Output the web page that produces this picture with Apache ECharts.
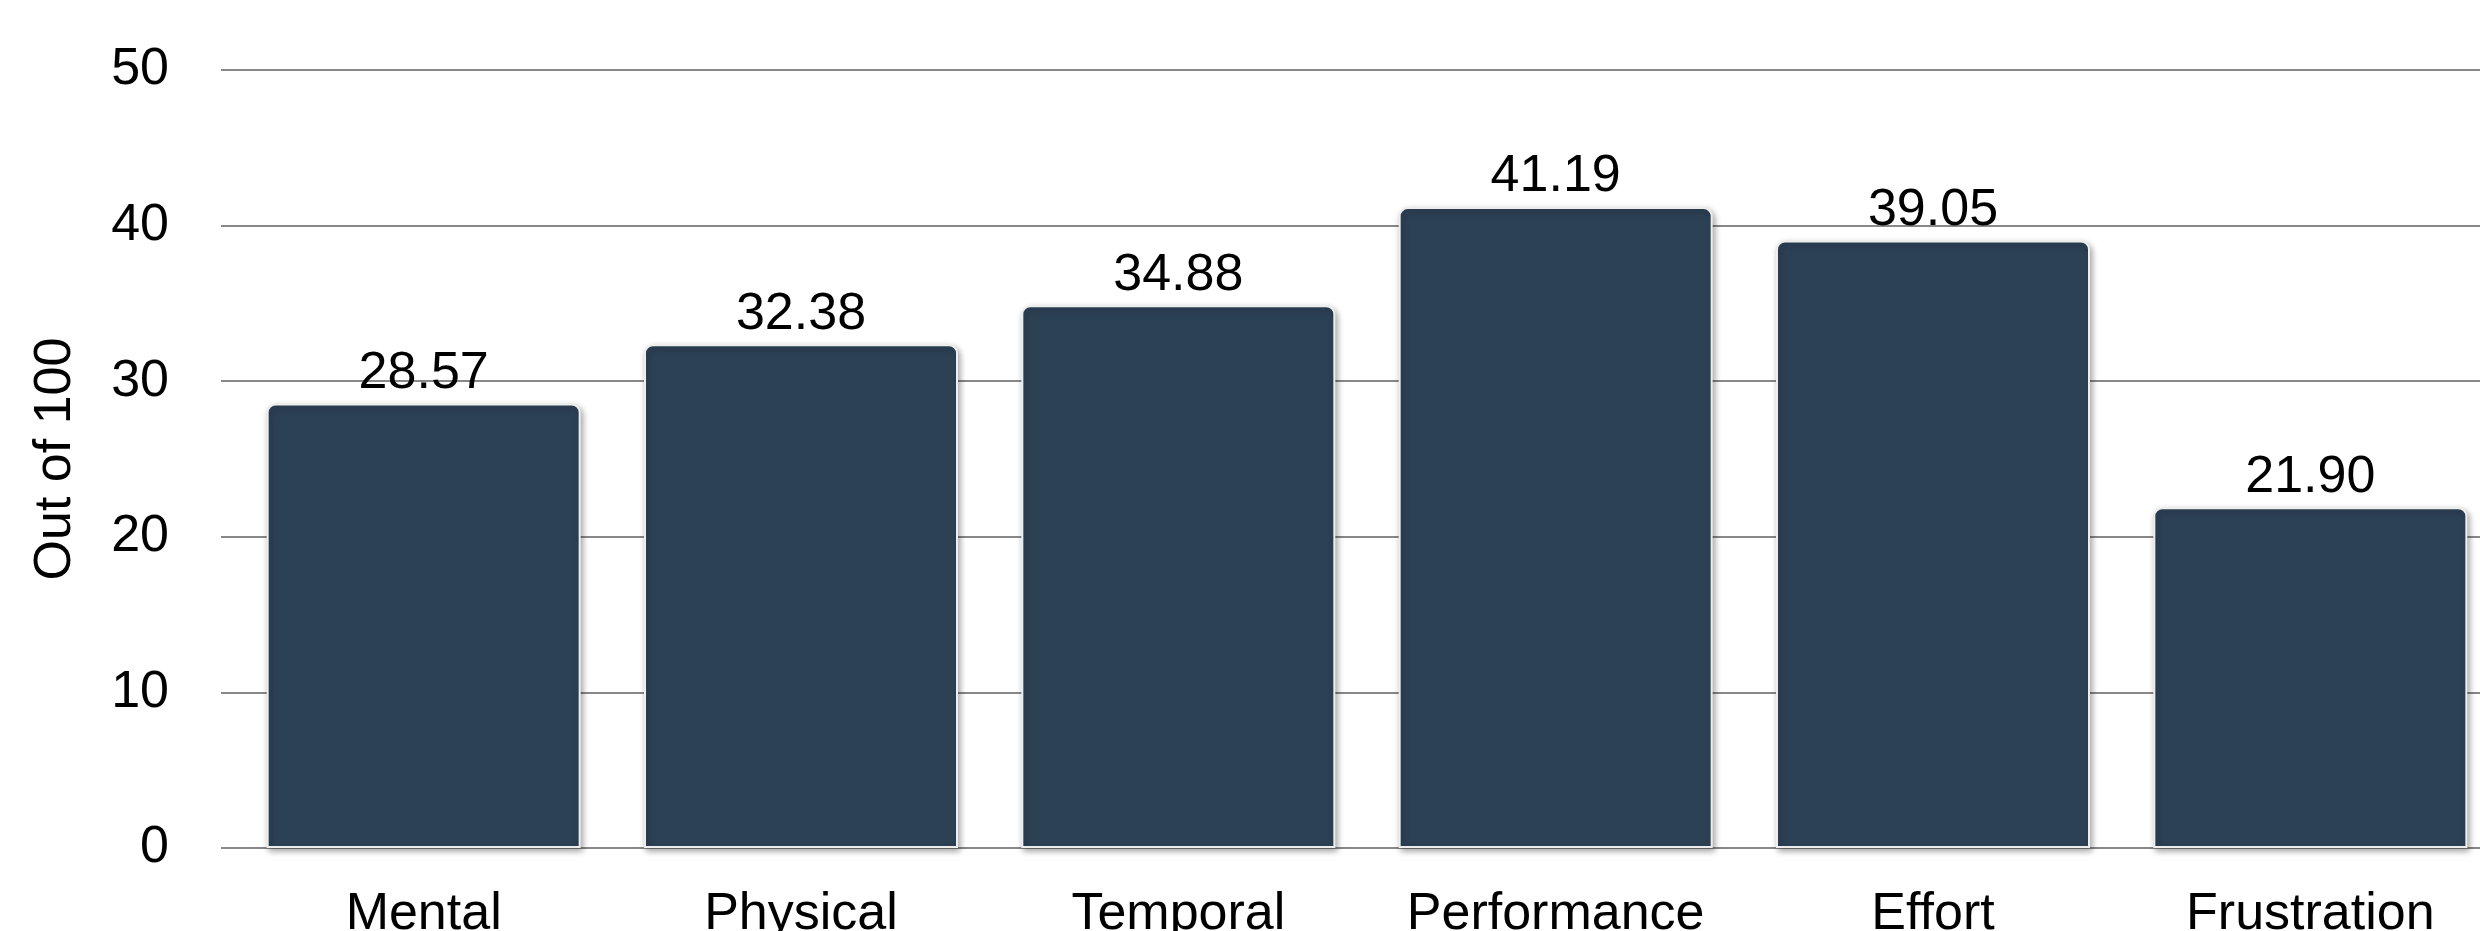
<!DOCTYPE html>
<html>
<head>
<meta charset="utf-8">
<script src="https://cdn.jsdelivr.net/npm/echarts@6/dist/echarts.min.js"></script>
<style>
  html, body { margin: 0; padding: 0; background: #fff; overflow: hidden; }
  #chart { width: 2499px; height: 931px; }
</style>
</head>
<body>
<div id="chart"></div>
<script>
const categories = ["Mental", "Physical", "Temporal", "Performance", "Effort", "Frustration"];
const scores = [28.57, 32.38, 34.88, 41.19, 39.05, 21.90];
const yTicks = [0, 10, 20, 30, 40, 50];

const font = "'Liberation Sans', Arial, Helvetica, sans-serif";
const gridTop = 70;
const gridBottom = 83;

const chart = echarts.init(document.getElementById('chart'));

// the last bar runs past the right edge of the picture, so the canvas is a bit wider
const options = {
  backgroundColor: '#fff',
  animation: false,
  grid: [
    // gridlines + y labels
    { left: 221, right: 19, top: gridTop, bottom: gridBottom, outerBoundsMode: 'none' },
    // bars
    { left: 235, right: 0, top: gridTop, bottom: gridBottom, outerBoundsMode: 'none' }
  ],
  xAxis: [
    { gridIndex: 0, type: 'value', show: false },
    {
      gridIndex: 1,
      type: 'category',
      data: categories,
      axisLine: { show: false },
      axisTick: { show: false },
      axisLabel: {
        interval: 0,
        margin: 41,
        fontSize: 52,
        fontFamily: font,
        color: '#000'
      }
    }
  ],
  yAxis: [
    {
      gridIndex: 0,
      type: 'value',
      min: yTicks[0],
      max: yTicks[yTicks.length - 1],
      interval: 10,
      name: 'Out of 100',
      nameLocation: 'middle',
      nameGap: 139,
      nameTextStyle: { fontSize: 52, fontFamily: font, color: '#000' },
      axisLine: { show: false },
      axisTick: { show: false },
      axisLabel: {
        margin: 52,
        fontSize: 52,
        fontFamily: font,
        color: '#000'
      },
      splitLine: { lineStyle: { color: '#888888', width: 2 } }
    },
    {
      gridIndex: 1,
      type: 'value',
      min: yTicks[0],
      max: yTicks[yTicks.length - 1],
      show: false,
      splitLine: { show: false }
    }
  ],
  series: [
    {
      type: 'bar',
      xAxisIndex: 1,
      yAxisIndex: 1,
      data: scores,
      barWidth: 314,
      itemStyle: {
        color: '#2d4155',
        borderColor: '#eeeeee',
        borderWidth: 2,
        borderRadius: [8, 8, 0, 0],
        shadowColor: 'rgba(0,0,0,0.35)',
        shadowBlur: 6,
        shadowOffsetX: 2,
        shadowOffsetY: 3
      },
      label: {
        show: true,
        position: 'top',
        distance: 4,
        fontSize: 52,
        fontFamily: font,
        color: '#000',
        formatter: p => p.value.toFixed(2)
      }
    }
  ]
};

chart.setOption(options);
</script>
</body>
</html>
